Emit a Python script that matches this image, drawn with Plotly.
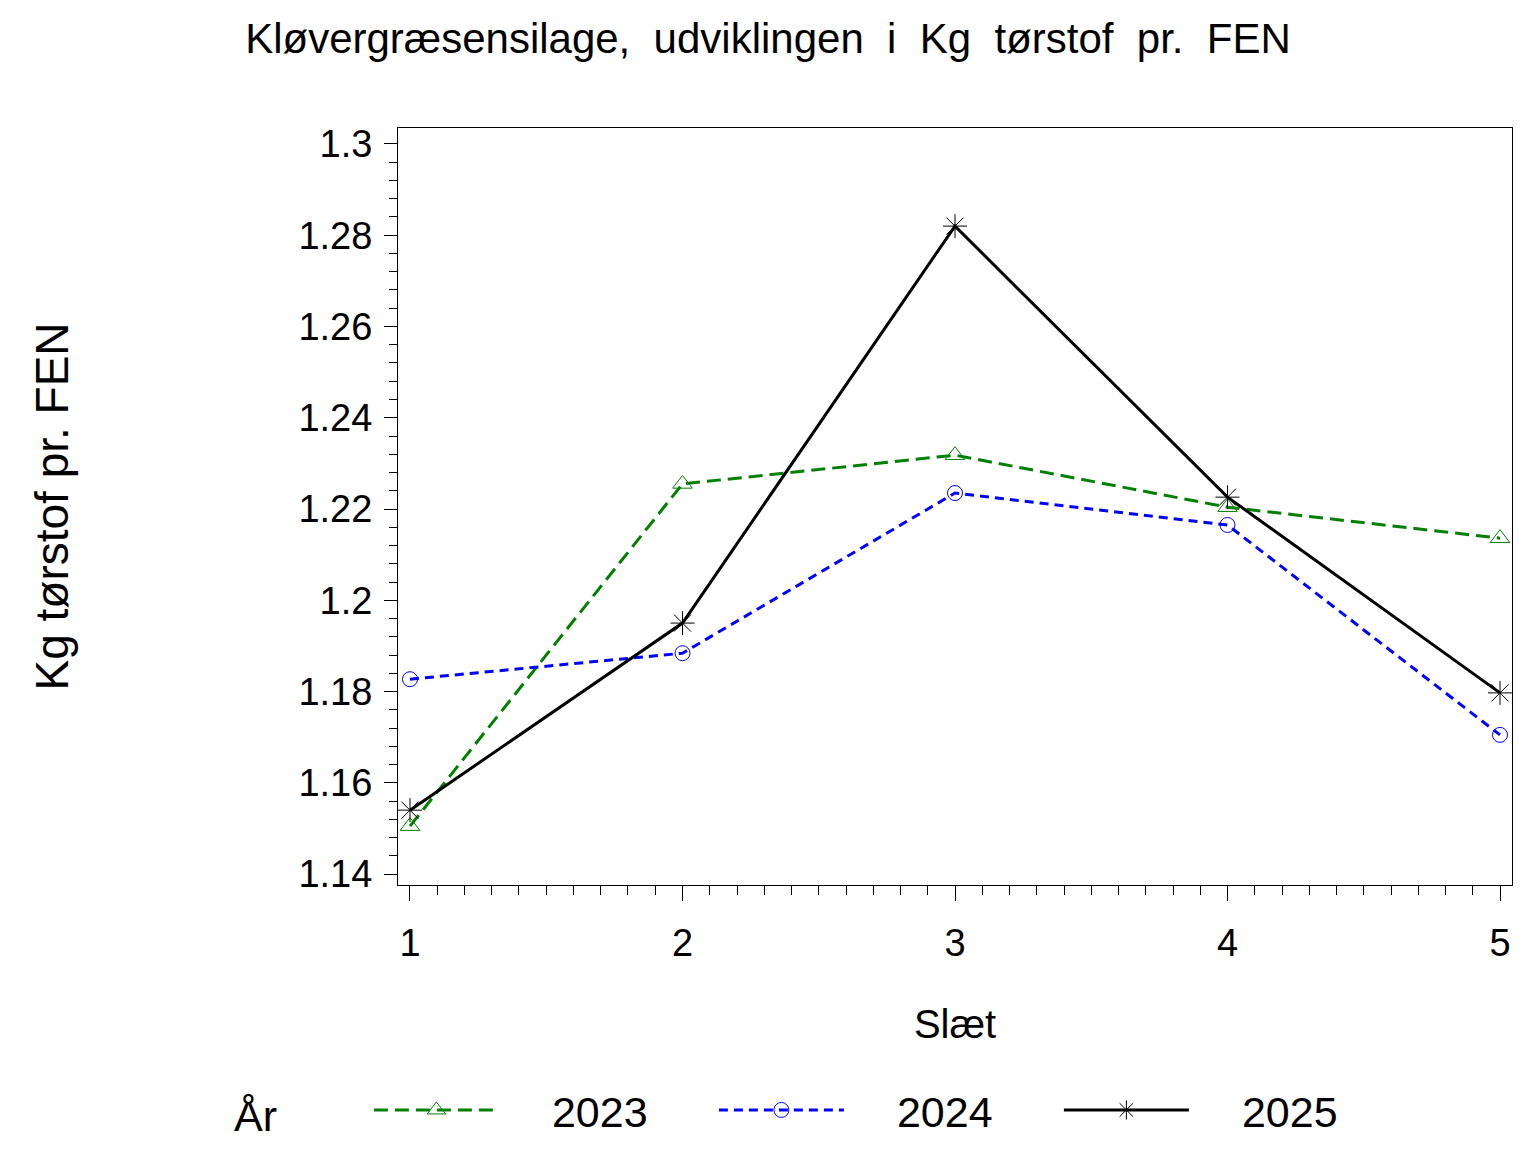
import plotly.graph_objects as go

slaet = [1, 2, 3, 4, 5]
aar = ["2023", "2024", "2025"]
v2023 = [1.1505, 1.2255, 1.2318, 1.2204, 1.2136]
v2024 = [1.1827, 1.1884, 1.2235, 1.2165, 1.1705]
v2025 = [1.1540, 1.1950, 1.2820, 1.2226, 1.1797]
ytickvals = [1.14, 1.16, 1.18, 1.2, 1.22, 1.24, 1.26, 1.28, 1.3]
yticktext = ["1.14", "1.16", "1.18", "1.2", "1.22", "1.24", "1.26", "1.28", "1.3"]

FONT = "Liberation Sans, Arial, sans-serif"
NB = "\u00a0"
TS = "\u2009"
HS = "\u200a"

fig = go.Figure()
styles = [
    (v2023, "#008000", "14px,7px", "triangle-up-open", 17),
    (v2024, "#0000ff", "9px,6px", "circle-open", 15),
    (v2025, "#000000", "solid", "asterisk-open", 20),
]
for name, (vals, col, dash, sym, ms) in zip(aar, styles):
    fig.add_trace(go.Scatter(
        x=slaet, y=vals, name=NB * 3 + TS + HS + name, mode="lines+markers",
        line=dict(color=col, width=3, dash=dash),
        marker=dict(symbol=sym, size=ms, color=col, line=dict(width=1, color=col)),
    ))

fig.update_layout(
    width=1536, height=1152,
    margin=dict(l=390, r=32, t=120, b=275, autoexpand=False),
    paper_bgcolor="white", plot_bgcolor="white",
    font=dict(family=FONT, size=38, color="black"),
    title=dict(text=f"Kløvergræsensilage,{NB} udviklingen{NB} i{NB} Kg{NB} tørstof{NB} pr.{NB} FEN",
               x=760 / 1536, xanchor="center", y=1 - 30 / 1152, yanchor="middle", yref="container",
               font=dict(size=42)),
    showlegend=True,
    legend=dict(orientation="h", x=224 / 1536, xanchor="left", xref="container",
                y=1 - 1102 / 1152, yanchor="middle", yref="container",
                title=dict(text="År" + NB * 6 + TS + HS, font=dict(size=43)),
                font=dict(size=43), entrywidth=205, itemwidth=125, tracegroupgap=0),
)
fig.update_xaxes(
    range=[0.956, 5.044], tickvals=slaet, ticks="outside", ticklen=15, tickwidth=1,
    tickcolor="black", showline=True, linecolor="black", linewidth=1, mirror=True,
    showgrid=False, zeroline=False, ticklabelstandoff=9, automargin=False,
    minor=dict(dtick=0.1, tick0=1, ticks="outside", ticklen=9, tickcolor="black", showgrid=False),
    title=dict(text="Slæt", standoff=47, font=dict(size=40)),
)
fig.update_yaxes(
    range=[1.1376, 1.3035], tickvals=ytickvals, ticktext=yticktext, ticks="outside", ticklen=13,
    tickwidth=1, tickcolor="black", showline=True, linecolor="black", linewidth=1, mirror=True,
    showgrid=False, zeroline=False, ticklabelstandoff=4, automargin=False,
    minor=dict(dtick=0.004, tick0=1.14, ticks="outside", ticklen=8, tickcolor="black", showgrid=False),
    title=dict(text="Kg tørstof pr. FEN", standoff=215),
)
fig.write_html("out.html")
